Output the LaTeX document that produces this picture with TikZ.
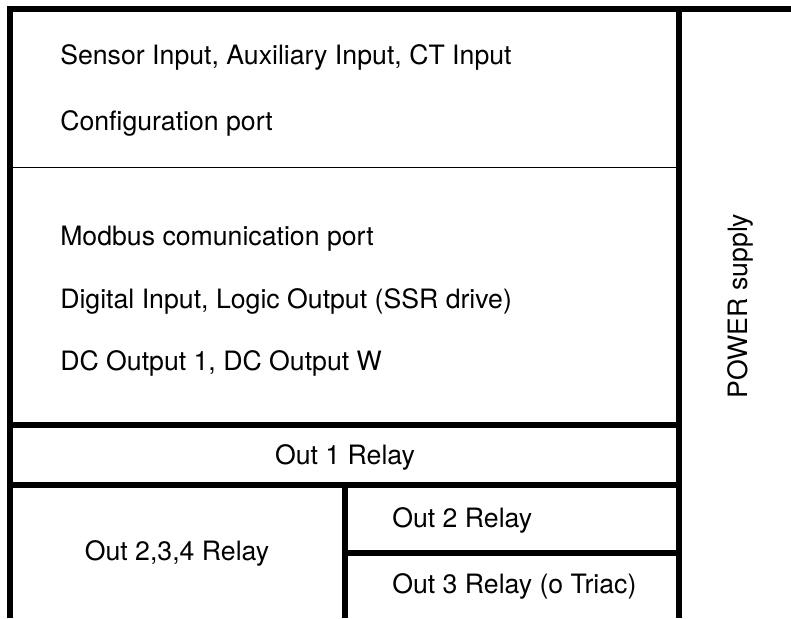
\documentclass[tikz,border=0pt]{standalone}
\usepackage{fontspec}
\setmainfont{TeX Gyre Heros}
\begin{document}
\begin{tikzpicture}[x=0.75pt,y=-0.75pt,
	wall/.style={line width=4.5pt},
	split/.style={line width=1.2pt},
	lbl/.style={font=\fontsize{20}{24}\selectfont, inner sep=0pt}]
	\useasboundingbox (0,0) rectangle (791,618);
	\clip (0,0) rectangle (791,618);
	% outer frame and partitions
	\draw[wall] (7,8.5) -- (791,8.5);
	\draw[wall] (10,8) -- (10,618);
	\draw[wall] (679,8) -- (679,618);
	\draw[split] (10,167.5) -- (679,167.5);
	\draw[wall] (10,425) -- (679,425);
	\draw[wall] (10,485) -- (679,485);
	\draw[wall] (345,485) -- (345,618);
	\draw[wall] (345,553) -- (679,553);
	% labels
	\node[lbl, anchor=west] (sensor) at (60,57) {Sensor Input, Auxiliary Input, CT Input};
	\node[lbl, anchor=west] (config) at (60,123) {Configuration port};
	\node[lbl, anchor=west] (modbus) at (60,239) {Modbus comunication port};
	\node[lbl, anchor=west] (digital) at (60,301) {Digital Input, Logic Output (SSR drive)};
	\node[lbl, anchor=west] (dcout) at (60,363) {DC Output 1, DC Output W};
	\node[lbl] (out1) at (345,457) {Out 1 Relay};
	\node[lbl] (out234) at (177,553) {Out 2,3,4 Relay};
	\node[lbl, anchor=west] (out2) at (392,520) {Out 2 Relay};
	\node[lbl, anchor=west] (out3) at (392,586) {Out 3 Relay (o Triac)};
	\node[lbl, rotate=90] (power) at (740,306) {POWER supply};
\end{tikzpicture}
\end{document}
